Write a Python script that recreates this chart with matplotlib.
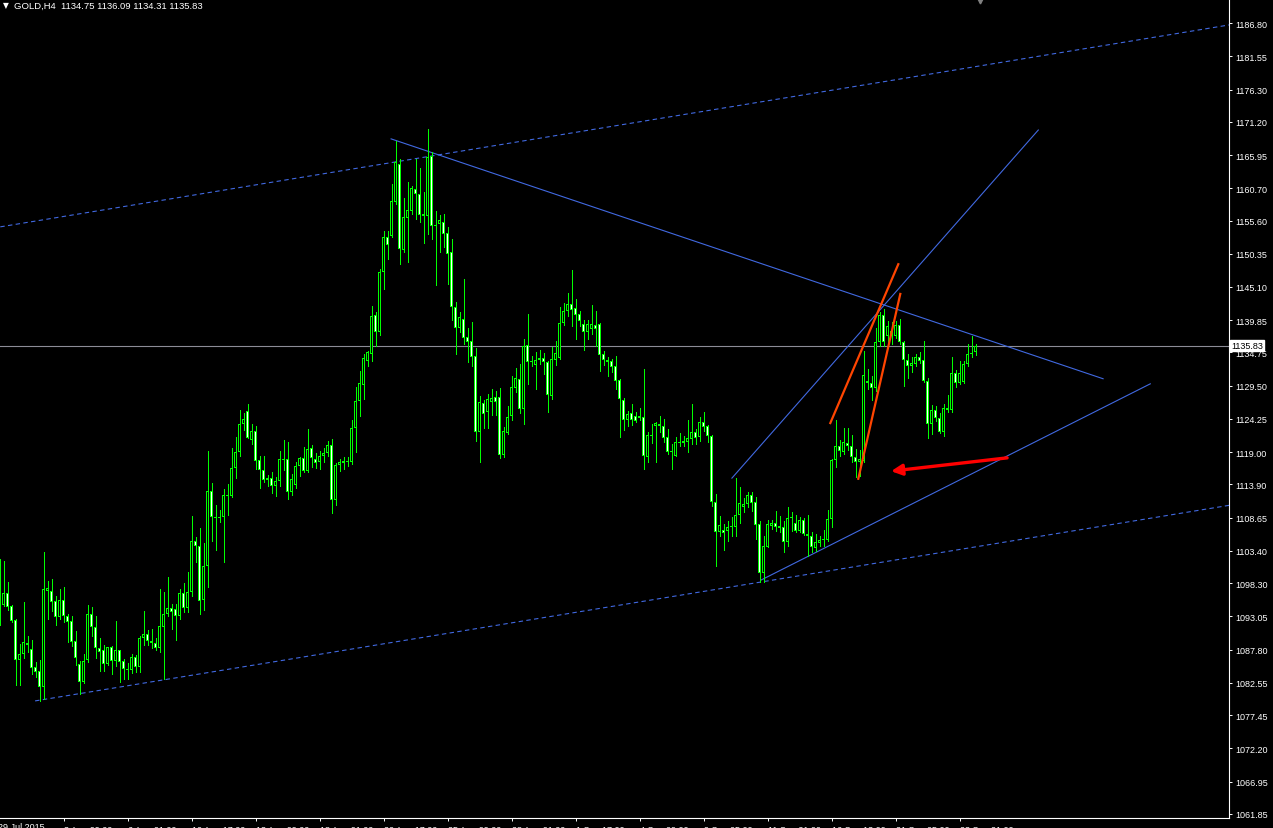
import numpy as np
import matplotlib
matplotlib.use("Agg")
import matplotlib.pyplot as plt
from matplotlib.transforms import blended_transform_factory

plt.rcParams['font.family'] = ['Liberation Sans', 'DejaVu Sans']

#GOLD H4 candles (open, high, low, close), first bar is partly hidden at the left edge
opens = [1097.4, 1094.9, 1096.7, 1094.7, 1092.5, 1086.2, 1087.1, 1088.9, 1087.9, 1085.1,
         1084.4, 1081.9, 1097.1, 1097.1, 1095.5, 1093.0, 1095.6, 1093.1, 1092.3, 1089.2,
         1085.5, 1082.7, 1086.2, 1093.4, 1091.4, 1088.1, 1087.7, 1085.5, 1088.2, 1086.0,
         1087.7, 1086.0, 1084.7, 1084.6, 1086.6, 1085.1, 1089.6, 1090.3, 1089.2, 1088.9,
         1088.1, 1091.4, 1093.4, 1094.4, 1094.2, 1093.1, 1096.7, 1094.4, 1096.9, 1105.0,
         1104.2, 1095.6, 1101.0, 1112.9, 1108.8, 1108.6, 1108.8, 1112.2, 1112.1, 1116.5,
         1119.0, 1123.4, 1125.5, 1120.9, 1122.3, 1117.8, 1116.2, 1114.9, 1114.9, 1113.7,
         1114.4, 1117.9, 1117.9, 1112.7, 1113.8, 1116.8, 1118.1, 1116.0, 1119.7, 1117.9,
         1117.4, 1118.4, 1118.9, 1120.1, 1111.4, 1117.0, 1117.3, 1117.6, 1117.4, 1122.8,
         1127.1, 1129.6, 1133.4, 1134.5, 1140.7, 1138.0, 1147.5, 1153.0, 1153.2, 1158.5,
         1164.5, 1150.9, 1156.0, 1157.1, 1160.6, 1159.8, 1156.6, 1156.3, 1165.8, 1154.9,
         1155.0, 1155.4, 1153.6, 1150.6, 1141.9, 1138.6, 1140.0, 1137.2, 1136.6, 1134.2,
         1122.2, 1126.8, 1125.3, 1126.9, 1127.7, 1127.7, 1118.6, 1122.0, 1124.7, 1129.1,
         1130.6, 1125.8, 1135.9, 1133.4, 1132.8, 1133.6, 1133.9, 1133.2, 1127.9, 1133.6,
         1133.9, 1139.4, 1141.3, 1142.4, 1141.8, 1140.8, 1139.2, 1138.0, 1138.5, 1139.1,
         1139.2, 1134.5, 1133.6, 1133.4, 1132.6, 1130.4, 1127.2, 1124.1, 1125.2, 1124.7,
         1124.4, 1124.6, 1118.2, 1121.7, 1123.1, 1123.4, 1123.1, 1121.4, 1119.2, 1118.4,
         1120.5, 1120.5, 1120.6, 1121.1, 1122.2, 1121.4, 1123.8, 1123.1, 1121.6, 1111.1,
         1106.4, 1106.7, 1106.5, 1107.2, 1107.2, 1109.1, 1110.3, 1110.8, 1112.2, 1111.1,
         1107.7, 1099.9, 1104.0, 1107.4, 1107.8, 1107.3, 1107.2, 1104.8, 1108.6, 1107.8,
         1106.5, 1108.3, 1106.1, 1105.8, 1103.9, 1104.6, 1105.1, 1105.1, 1108.4, 1117.8,
         1120.0, 1119.0, 1120.4, 1120.0, 1118.2, 1117.4, 1117.6, 1130.2, 1129.9, 1129.1,
         1136.4, 1140.7, 1137.4, 1138.1, 1137.4, 1139.1, 1136.4, 1133.6, 1132.6, 1132.9,
         1134.0, 1133.6, 1130.2, 1123.4, 1125.7, 1124.4, 1122.2, 1125.7, 1125.7, 1131.5,
         1129.9, 1130.1, 1132.9, 1134.5, 1134.75]
highs = [1102.1, 1101.8, 1098.5, 1094.9, 1092.6, 1088.7, 1095.3, 1090.0, 1089.3, 1085.8,
         1086.2, 1103.2, 1098.6, 1099.0, 1096.3, 1097.4, 1097.7, 1093.4, 1093.1, 1090.7,
         1086.0, 1087.1, 1094.9, 1094.5, 1093.1, 1089.6, 1088.5, 1088.2, 1088.4, 1092.3,
         1087.7, 1086.3, 1085.7, 1087.1, 1086.9, 1090.0, 1093.9, 1090.9, 1091.1, 1089.6,
         1097.4, 1096.9, 1099.3, 1095.0, 1095.0, 1097.4, 1098.3, 1100.1, 1108.9, 1105.6,
         1107.0, 1104.6, 1119.2, 1114.1, 1110.6, 1109.9, 1113.2, 1114.0, 1119.7, 1121.4,
         1125.7, 1125.2, 1126.6, 1123.4, 1123.1, 1118.4, 1118.4, 1115.4, 1115.9, 1115.1,
         1119.2, 1120.9, 1120.6, 1115.6, 1117.4, 1118.2, 1119.8, 1122.7, 1120.1, 1118.9,
         1119.2, 1119.7, 1120.8, 1121.1, 1117.3, 1117.9, 1118.2, 1118.2, 1124.1, 1129.3,
         1131.8, 1134.5, 1135.0, 1142.1, 1141.1, 1147.9, 1153.9, 1153.9, 1161.4, 1168.2,
         1165.3, 1159.2, 1161.7, 1161.1, 1165.3, 1163.9, 1160.1, 1170.1, 1166.4, 1157.1,
         1156.5, 1156.6, 1154.6, 1152.7, 1142.7, 1141.1, 1146.4, 1138.6, 1139.6, 1135.5,
         1127.9, 1127.2, 1128.2, 1129.0, 1128.7, 1129.1, 1123.0, 1126.3, 1131.0, 1132.3,
         1132.9, 1136.9, 1140.8, 1134.2, 1134.8, 1135.1, 1134.7, 1133.4, 1135.6, 1136.6,
         1141.9, 1142.6, 1144.1, 1147.8, 1143.2, 1141.3, 1139.9, 1139.9, 1142.3, 1141.3,
         1139.4, 1135.0, 1134.0, 1133.7, 1134.2, 1130.6, 1127.6, 1125.5, 1126.6, 1125.3,
         1126.0, 1132.1, 1122.2, 1123.4, 1123.8, 1124.7, 1124.2, 1122.7, 1120.3, 1121.4,
         1122.0, 1121.6, 1124.1, 1126.6, 1122.7, 1124.6, 1125.3, 1123.3, 1121.7, 1112.4,
         1108.9, 1107.7, 1108.1, 1108.8, 1114.9, 1113.5, 1111.8, 1112.7, 1112.7, 1111.9,
         1108.1, 1105.8, 1108.3, 1108.3, 1109.7, 1108.9, 1108.1, 1110.3, 1109.5, 1109.1,
         1108.8, 1108.6, 1109.1, 1106.4, 1106.1, 1105.8, 1106.7, 1109.9, 1117.9, 1124.1,
         1120.9, 1122.8, 1122.8, 1121.7, 1119.5, 1119.3, 1135.0, 1132.1, 1131.0, 1138.6,
         1141.1, 1141.6, 1139.7, 1139.6, 1139.7, 1140.0, 1136.6, 1134.5, 1134.0, 1134.5,
         1134.8, 1136.6, 1130.7, 1126.5, 1126.3, 1125.2, 1126.6, 1128.0, 1134.0, 1132.0,
         1133.4, 1133.4, 1136.1, 1137.4, 1136.09]
lows = [1091.7, 1094.7, 1094.1, 1092.2, 1082.2, 1082.2, 1086.5, 1087.4, 1084.0, 1083.5,
        1079.7, 1080.0, 1092.6, 1093.9, 1091.7, 1092.6, 1092.2, 1089.0, 1088.4, 1085.4,
        1080.8, 1082.5, 1085.8, 1090.0, 1086.5, 1084.4, 1084.4, 1085.4, 1084.0, 1085.2,
        1082.7, 1083.2, 1083.2, 1084.1, 1084.3, 1084.3, 1088.5, 1088.5, 1088.1, 1087.7,
        1087.4, 1083.2, 1093.1, 1091.1, 1089.3, 1092.6, 1093.7, 1093.7, 1096.3, 1101.6,
        1093.4, 1094.1, 1097.7, 1105.0, 1103.5, 1108.0, 1101.6, 1109.1, 1111.9, 1114.9,
        1118.4, 1122.5, 1121.2, 1120.3, 1116.3, 1113.3, 1114.3, 1113.7, 1112.5, 1112.1,
        1113.7, 1116.2, 1111.6, 1112.2, 1113.3, 1115.2, 1115.9, 1115.9, 1116.6, 1116.5,
        1116.3, 1117.4, 1118.4, 1109.4, 1110.7, 1116.0, 1116.3, 1116.8, 1117.1, 1119.0,
        1124.7, 1127.4, 1132.6, 1133.4, 1135.8, 1137.5, 1144.8, 1149.5, 1153.0, 1158.2,
        1148.7, 1150.6, 1149.0, 1156.6, 1155.8, 1155.4, 1152.0, 1153.5, 1152.7, 1145.4,
        1150.6, 1151.4, 1145.6, 1139.9, 1134.5, 1138.0, 1136.1, 1133.2, 1132.6, 1120.8,
        1117.4, 1122.8, 1122.8, 1124.9, 1124.9, 1118.1, 1118.2, 1121.9, 1124.1, 1128.5,
        1125.2, 1123.4, 1129.8, 1132.6, 1129.0, 1132.9, 1131.4, 1125.3, 1127.4, 1132.8,
        1133.7, 1139.1, 1140.5, 1138.9, 1136.9, 1138.9, 1135.1, 1136.9, 1137.7, 1135.8,
        1131.8, 1132.8, 1131.0, 1131.7, 1129.0, 1121.4, 1122.5, 1123.1, 1123.3, 1123.8,
        1124.1, 1116.3, 1117.4, 1120.4, 1117.4, 1122.2, 1120.6, 1118.7, 1116.3, 1118.4,
        1120.0, 1120.0, 1119.0, 1120.3, 1120.3, 1120.8, 1122.3, 1120.6, 1110.5, 1101.0,
        1105.8, 1103.5, 1105.0, 1105.8, 1105.8, 1107.8, 1109.5, 1110.3, 1109.7, 1105.3,
        1098.5, 1098.5, 1104.0, 1106.9, 1106.5, 1106.4, 1103.2, 1104.2, 1106.5, 1106.4,
        1106.4, 1105.9, 1102.6, 1103.2, 1103.4, 1104.2, 1104.2, 1105.0, 1107.2, 1116.7,
        1118.4, 1118.7, 1119.3, 1117.4, 1115.1, 1115.2, 1117.4, 1129.0, 1127.2, 1128.7,
        1135.8, 1135.8, 1135.9, 1136.1, 1137.0, 1136.1, 1129.5, 1130.7, 1131.7, 1132.6,
        1133.1, 1130.1, 1121.2, 1121.9, 1123.9, 1122.0, 1121.6, 1125.3, 1125.3, 1129.3,
        1129.8, 1129.9, 1132.6, 1134.0, 1134.31]
closes = [1094.9, 1096.7, 1094.5, 1092.3, 1086.2, 1087.1, 1089.0, 1088.5, 1084.9, 1084.3,
          1081.9, 1097.4, 1097.5, 1095.3, 1093.0, 1095.6, 1093.1, 1092.2, 1089.0, 1086.5,
          1082.7, 1086.0, 1093.4, 1091.4, 1088.1, 1087.4, 1085.5, 1088.2, 1086.0, 1087.7,
          1085.8, 1084.7, 1084.6, 1086.6, 1085.1, 1089.6, 1090.3, 1089.2, 1088.9, 1088.1,
          1091.5, 1093.4, 1094.4, 1093.7, 1093.1, 1096.7, 1094.4, 1096.9, 1105.0, 1104.2,
          1095.5, 1101.0, 1112.9, 1108.8, 1108.6, 1108.8, 1112.2, 1112.1, 1116.5, 1119.0,
          1123.4, 1124.2, 1121.2, 1122.3, 1117.6, 1116.2, 1114.6, 1114.6, 1113.7, 1114.4,
          1117.9, 1117.8, 1112.7, 1114.8, 1116.8, 1118.1, 1116.0, 1119.5, 1118.1, 1117.3,
          1118.4, 1118.9, 1120.1, 1111.4, 1117.0, 1117.4, 1117.6, 1117.4, 1122.8, 1127.1,
          1129.9, 1133.9, 1134.8, 1140.5, 1138.0, 1147.5, 1153.0, 1151.7, 1158.7, 1164.8,
          1151.1, 1156.2, 1157.3, 1160.7, 1159.8, 1156.5, 1156.3, 1165.6, 1154.7, 1154.7,
          1155.7, 1153.5, 1150.3, 1141.9, 1138.6, 1140.4, 1137.0, 1136.4, 1134.0, 1122.2,
          1126.9, 1125.0, 1127.4, 1127.6, 1126.9, 1118.6, 1122.3, 1124.6, 1129.3, 1130.7,
          1125.8, 1135.8, 1133.2, 1133.2, 1133.6, 1133.9, 1133.2, 1128.0, 1133.7, 1134.7,
          1139.4, 1141.3, 1142.4, 1141.5, 1140.7, 1139.7, 1138.0, 1139.2, 1139.2, 1138.5,
          1134.4, 1133.6, 1133.2, 1132.5, 1130.2, 1127.4, 1124.1, 1125.0, 1124.1, 1123.9,
          1124.7, 1118.4, 1121.7, 1121.6, 1123.6, 1123.1, 1121.2, 1119.0, 1119.0, 1120.6,
          1120.6, 1120.8, 1121.2, 1122.2, 1121.2, 1123.8, 1123.0, 1121.6, 1111.1, 1106.4,
          1107.5, 1106.2, 1107.2, 1107.3, 1109.1, 1111.0, 1110.8, 1112.2, 1111.0, 1107.5,
          1099.9, 1104.2, 1107.7, 1107.8, 1107.2, 1107.0, 1104.8, 1108.6, 1108.8, 1106.5,
          1108.3, 1106.1, 1105.8, 1104.0, 1104.8, 1105.1, 1105.3, 1108.4, 1117.8, 1120.0,
          1119.2, 1120.6, 1120.0, 1118.2, 1117.4, 1117.9, 1131.2, 1129.9, 1129.1, 1136.4,
          1140.7, 1136.4, 1138.9, 1137.4, 1139.1, 1136.4, 1133.6, 1132.6, 1133.1, 1134.0,
          1133.4, 1130.2, 1123.4, 1125.7, 1124.4, 1122.2, 1126.0, 1126.0, 1131.5, 1129.9,
          1131.5, 1132.9, 1134.5, 1134.7, 1135.83]

#Axis labels
price_ticks = [1186.80, 1181.55, 1176.30, 1171.20, 1165.95, 1160.70, 1155.60, 1150.35,
               1145.10, 1139.85, 1134.75, 1129.50, 1124.25, 1119.00, 1113.90, 1108.65,
               1103.40, 1098.30, 1093.05, 1087.80, 1082.55, 1077.45, 1072.20, 1066.95,
               1061.85]
first_date = "29 Jul 2015"
date_labels = ["3 Aug 09:00", "6 Aug 01:00", "10 Aug 17:00", "13 Aug 09:00", "18 Aug 01:00",
               "20 Aug 17:00", "25 Aug 09:00", "28 Aug 01:00", "1 Sep 17:00", "4 Sep 09:00",
               "9 Sep 05:00", "11 Sep 21:00", "16 Sep 13:00", "21 Sep 05:00", "23 Sep 21:00"]
date_bars = [15, 31, 47, 63, 79, 95, 111, 127, 143, 159, 175, 191, 207, 223, 239]
current_price = 1135.83
header = "GOLD,H4  1134.75 1136.09 1134.31 1135.83"

#Drawn objects as (bar, price) end points
channel_upper = [(-0.8, 1154.6), (306.4, 1186.5)]
channel_lower = [(7.9, 1079.7), (306.4, 1110.6)]
trend_down = [(96.9, 1168.5), (274.9, 1130.6)]
trend_up_low = [(189.4, 1098.8), (286.7, 1129.8)]
trend_up_high = [(182.1, 1114.9), (258.7, 1169.9)]
orange_a = [(206.7, 1123.6), (223.7, 1148.7)]
orange_b = [(213.7, 1114.8), (224.2, 1144.0)]
arrow_tail = (250.9, 1118.1)
arrow_tip = (221.9, 1116.0)

W, H = 1273, 829
fig = plt.figure(figsize=(W / 100, H / 100), dpi=100, facecolor='black')
ax = fig.add_axes([0, 10 / H, 1229 / W, 819 / H], facecolor='black')

y_lo, y_hi = 1061.2, 1190.6
px = (y_hi - y_lo) / 819  #price per screen pixel

opens = np.array(opens)
highs = np.array(highs)
lows = np.array(lows)
closes = np.array(closes)
bars = np.arange(len(closes)) - 1

candle_green = '#00ff00'
bull = closes >= opens

#Wicks
ax.vlines(bars, lows, highs, color=candle_green, linewidth=0.72, antialiased=False, zorder=3)

#Bodies: green block, then a 1 px black (up) or white (down) core
bottoms = np.minimum(opens, closes)
heights = np.maximum(np.abs(closes - opens), px)
ax.bar(bars, heights, bottom=bottoms, width=0.75, color=candle_green, linewidth=0,
       antialiased=False, zorder=4)
core = heights > 2.5 * px
fills = np.where(bull, 'black', 'white')
ax.bar(bars[core], heights[core] - 2 * px, bottom=bottoms[core] + px, width=0.25,
       color=fills[core], linewidth=0, antialiased=False, zorder=5)

blue = '#4169e1'
for line in [channel_upper, channel_lower]:
    (x0, y0), (x1, y1) = line
    ax.plot([x0, x1], [y0, y1], color=blue, linewidth=0.8, linestyle=(0, (4, 3)), zorder=2)
for line in [trend_down, trend_up_low, trend_up_high]:
    (x0, y0), (x1, y1) = line
    ax.plot([x0, x1], [y0, y1], color=blue, linewidth=0.8, zorder=2)
for line in [orange_a, orange_b]:
    (x0, y0), (x1, y1) = line
    ax.plot([x0, x1], [y0, y1], color='#ff4500', linewidth=1.6, zorder=6)

ax.annotate('', xy=arrow_tip, xytext=arrow_tail,
            arrowprops=dict(arrowstyle='-|>', color='#ff0000', lw=2.4, mutation_scale=16,
                            shrinkA=0, shrinkB=0), zorder=7)

#Current price line
ax.axhline(current_price, color='#8c8c96', linewidth=0.8, zorder=1)

#Bar k sits on pixel column 3 + 4k
ax.set_xlim(-0.875, 306.375)
ax.set_ylim(y_lo, y_hi)

for side in ['left', 'top']:
    ax.spines[side].set_visible(False)
for side in ['right', 'bottom']:
    ax.spines[side].set_color('white')
    ax.spines[side].set_linewidth(0.8)

ax.yaxis.tick_right()
ax.set_yticks(price_ticks)
ax.set_yticklabels([f"{p:.2f}" for p in price_ticks])
ax.tick_params(axis='y', colors='white', labelsize=6.5, length=2.5, width=0.7, pad=2)

ax.set_xticks(date_bars)
ax.set_xticklabels(date_labels)
ax.tick_params(axis='x', colors='white', labelsize=6.5, length=2.5, width=0.7, pad=2.5)
for lbl in ax.get_xticklabels():
    lbl.set_horizontalalignment('left')

trans = blended_transform_factory(ax.transData, ax.transAxes)
ax.text(-1.3, -0.005, first_date, transform=trans, color='white', fontsize=6.5,
        ha='left', va='top')

#Price box on the right axis
ax.text(1.0015, current_price, f"{current_price:.2f}", transform=ax.get_yaxis_transform(),
        color='black', fontsize=6.5, ha='left', va='center', zorder=10,
        bbox=dict(facecolor='white', edgecolor='white', pad=0.6))

#Chart shift marker
ax.plot([bars[-1] + 1.2], [1190.3], marker='v', color='#808080', markersize=3.5, clip_on=False)

#Header
fig.text(3 / W, 1 - 6 / H, "\u25bc", color='white', fontsize=5.5, ha='left', va='center',
         family=['DejaVu Sans'])
fig.text(14 / W, 1 - 6 / H, header, color='white', fontsize=6.8, ha='left', va='center')

fig.savefig('out.png', dpi=100, facecolor='black')
